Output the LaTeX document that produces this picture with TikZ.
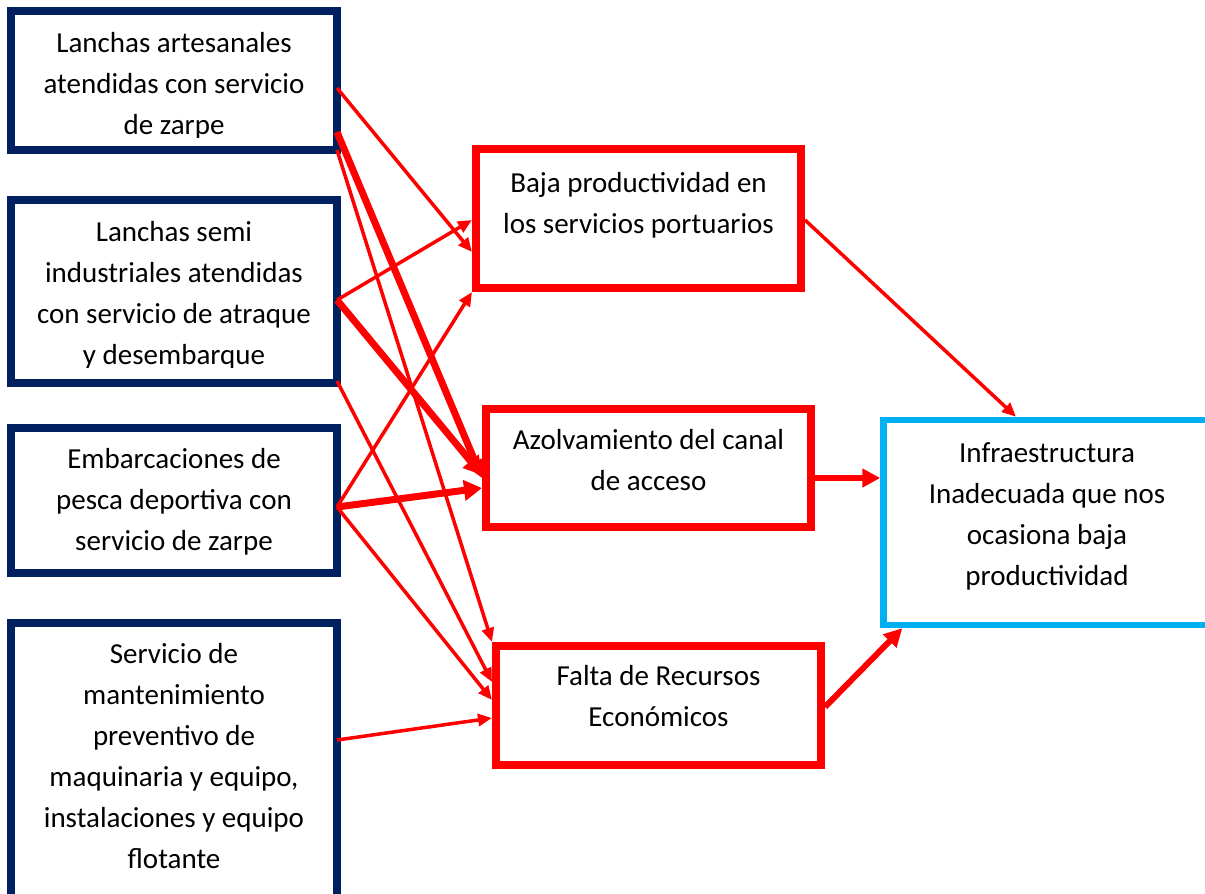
\documentclass[tikz,border=0pt]{standalone}
\usepackage{fontspec}
\setmainfont{Carlito}
\usetikzlibrary{arrows.meta}
\definecolor{navy}{HTML}{002060}
\definecolor{cyanb}{HTML}{00B0F0}
\begin{document}
\begin{tikzpicture}[x=1pt,y=-1pt,
    txt/.style={font=\fontsize{29}{41}\selectfont,align=center,inner sep=0pt},
    navybox/.style={draw=navy,line width=8pt,outer sep=0pt,minimum width=326},
    redbox/.style={draw=red,line width=8pt,minimum width=325},
    cyanbox/.style={draw=cyanb,line width=6.5pt},
    thinarr/.style={draw=red,line width=3.5pt,-{Triangle[length=14pt,width=12pt]}},
    midarr/.style={draw=red,line width=6pt,-{Triangle[length=18pt,width=18pt]}},
    thickarr/.style={draw=red,line width=7pt,-{Triangle[length=18pt,width=20pt]}}]
  \useasboundingbox (0,0) rectangle (1205,894);
  \node[navybox,minimum height=139] (lan1) at (174,80.5) {};
  \node[navybox,minimum height=183] (lan2) at (174,291.5) {};
  \node[navybox,minimum height=145] (emb) at (174,500) {};
  \node[navybox,minimum height=277] (serv) at (174,761.5) {};
  \node[redbox,minimum height=139] (baja) at (638.5,218.5) {};
  \node[redbox,minimum height=118] (azol) at (648.5,468) {};
  \node[redbox,minimum height=119] (falta) at (658.5,705.5) {};
  \node[cyanbox,minimum width=328.5,minimum height=205] (infra) at (1047.75,522.5) {};
  \begin{scope}
    \clip (lan1.north west) rectangle ([yshift=13pt]lan1.south east);
    \node[txt] (t1) at (174,85.5) {Lanchas artesanales\\atendidas con servicio\\de zarpe};
  \end{scope}
  \begin{scope}
    \clip (lan2.north west) rectangle ([yshift=16pt]lan2.south east);
    \node[txt] (t2) at (174,295.5) {Lanchas semi\\industriales atendidas\\con servicio de atraque\\y desembarque};
  \end{scope}
  \node[txt] (t3) at (174,501.5) {Embarcaciones de\\pesca deportiva con\\servicio de zarpe};
  \node[txt] (t4) at (174,756.5) {Servicio de\\mantenimiento\\preventivo de\\maquinaria y equipo,\\instalaciones y equipo\\flotante};
  \node[txt] (t5) at (638.5,205) {Baja productividad en\\los servicios portuarios};
  \node[txt] (t6) at (648.5,460.5) {Azolvamiento del canal\\de acceso};
  \node[txt] (t7) at (658.5,696) {Falta de Recursos\\Económicos};
  \node[txt] (t8) at (1047,516) {Infraestructura\\Inadecuada que nos\\ocasiona baja\\productividad};
  \draw[thinarr] ([yshift=-7.5pt]lan1.east) -- ([yshift=-33.5pt]baja.west);
  \draw[thickarr] ([yshift=-51.5pt]lan1.east) -- ([yshift=-10pt]azol.west);
  \draw[thinarr] (lan1.south east) -- (falta.north west);
  \draw[thinarr] ([yshift=-8.5pt]lan2.east) -- ([yshift=-1.5pt]baja.west);
  \draw[thickarr] ([yshift=-8.5pt]lan2.east) -- ([yshift=-7pt]azol.west);
  \draw[thinarr] ([yshift=2pt]lan2.south east) -- ([yshift=23.5pt]falta.west);
  \draw[thinarr] ([yshift=-7pt]emb.east) -- (baja.south west);
  \draw[thickarr] ([yshift=-7pt]emb.east) -- ([yshift=-20pt]azol.west);
  \draw[thinarr] ([yshift=-7pt]emb.east) -- ([yshift=5.5pt]falta.west);
  \draw[thinarr] ([yshift=21.5pt]serv.east) -- ([yshift=-12.5pt]falta.west);
  \draw[thinarr] ([yshift=-1.5pt]baja.east) -- ([xshift=-31.75pt]infra.north);
  \draw[midarr] ([yshift=-10pt]azol.east) -- ([yshift=44.5pt]infra.west);
  \draw[midarr] ([yshift=-1.5pt]falta.east) -- ([xshift=22pt]infra.south west);
\end{tikzpicture}
\end{document}
